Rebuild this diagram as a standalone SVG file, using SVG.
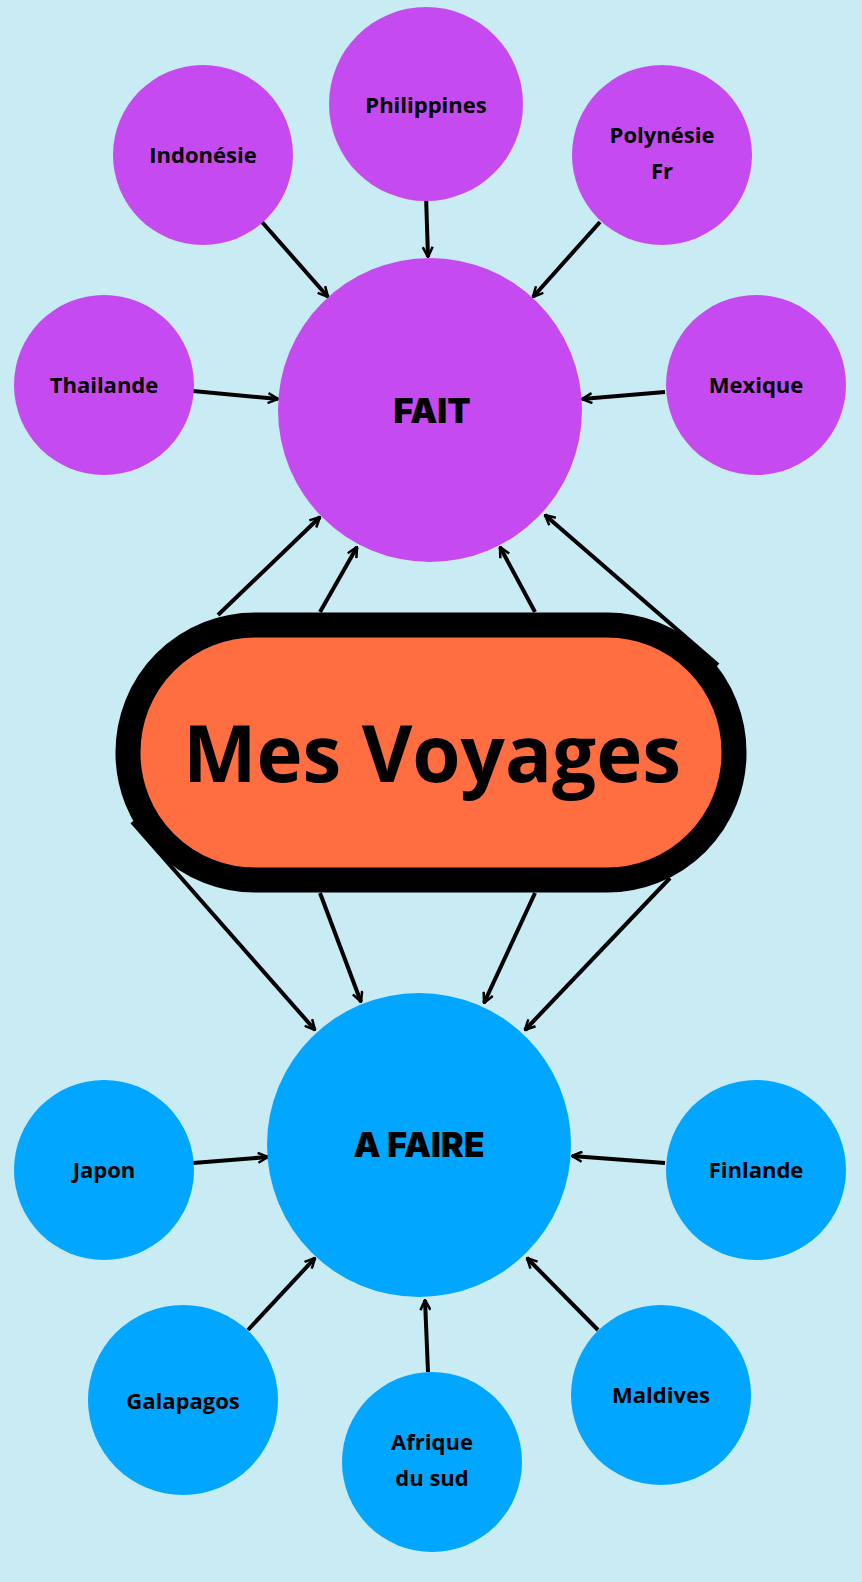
<svg xmlns="http://www.w3.org/2000/svg" width="862" height="1582" viewBox="0 0 862 1582">
<defs>
<marker id="a" viewBox="0 0 12 12" refX="11" refY="6" markerWidth="12" markerHeight="12" markerUnits="userSpaceOnUse" orient="auto">
<polyline points="1,1 11,6 1,11" fill="none" stroke="#000" stroke-width="2.5"/>
</marker>
<style>
.p{fill:#c54bf1}.b{fill:#00a6ff}
.t{font-family:"Open Sans","Liberation Sans",sans-serif;font-weight:700;font-size:22px;fill:#000;text-anchor:middle}
.h{font-family:Inter,"Liberation Sans",sans-serif;font-weight:900;font-size:34px;fill:#000;text-anchor:middle}
#c line{stroke:#000;stroke-width:4;marker-end:url(#a)}
</style>
</defs>
<rect width="862" height="1582" fill="#c8ebf4"/>
<g id="c">
<line x1="262" y1="222" x2="328" y2="297"/>
<line x1="426" y1="195" x2="428" y2="257"/>
<line x1="600" y1="222" x2="533" y2="297"/>
<line x1="193" y1="391" x2="278" y2="399"/>
<line x1="665" y1="392" x2="582" y2="399"/>
<line x1="218" y1="615" x2="320" y2="517"/>
<line x1="320" y1="612" x2="357" y2="547"/>
<line x1="535" y1="612" x2="500" y2="547"/>
<line x1="718" y1="665" x2="545" y2="515"/>
<line x1="132" y1="822" x2="315" y2="1030"/>
<line x1="320" y1="893" x2="361" y2="1002"/>
<line x1="535" y1="893" x2="484" y2="1003"/>
<line x1="670" y1="878" x2="525" y2="1030"/>
<line x1="193" y1="1163" x2="268" y2="1157"/>
<line x1="665" y1="1163" x2="572" y2="1156"/>
<line x1="248" y1="1330" x2="315" y2="1258"/>
<line x1="428" y1="1372" x2="425" y2="1300"/>
<line x1="598" y1="1330" x2="527" y2="1258"/>
</g>
<g id="fait"><circle class="p" cx="430" cy="410" r="152"/><text class="h" x="432" y="423">FAIT</text></g>
<g id="indonesie"><circle class="p" cx="203" cy="155" r="90"/><text class="t" x="203" y="163">Indonésie</text></g>
<g id="philippines"><circle class="p" cx="426" cy="104" r="97"/><text class="t" x="426" y="113">Philippines</text></g>
<g id="polynesie"><circle class="p" cx="662" cy="155" r="90"/><text class="t" x="662" y="143">Polynésie</text><text class="t" x="662" y="179">Fr</text></g>
<g id="thailande"><circle class="p" cx="104" cy="385" r="90"/><text class="t" x="104" y="393">Thailande</text></g>
<g id="mexique"><circle class="p" cx="756" cy="385" r="90"/><text class="t" x="756" y="393">Mexique</text></g>
<g id="voyages"><rect x="128" y="625" width="606" height="255" rx="127" fill="#ff6e40" stroke="#000" stroke-width="25"/><text x="432" y="782" font-family="Open Sans, Liberation Sans, sans-serif" font-weight="700" font-size="78" text-anchor="middle" fill="#000">Mes Voyages</text></g>
<g id="afaire"><circle class="b" cx="419" cy="1145" r="152"/><text class="h" x="419" y="1157">A FAIRE</text></g>
<g id="japon"><circle class="b" cx="104" cy="1170" r="90"/><text class="t" x="104" y="1178">Japon</text></g>
<g id="finlande"><circle class="b" cx="756" cy="1170" r="90"/><text class="t" x="756" y="1178">Finlande</text></g>
<g id="galapagos"><circle class="b" cx="183" cy="1400" r="95"/><text class="t" x="183" y="1409">Galapagos</text></g>
<g id="afrique"><circle class="b" cx="432" cy="1462" r="90"/><text class="t" x="432" y="1450">Afrique</text><text class="t" x="432" y="1486">du sud</text></g>
<g id="maldives"><circle class="b" cx="661" cy="1395" r="90"/><text class="t" x="661" y="1403">Maldives</text></g>
</svg>
